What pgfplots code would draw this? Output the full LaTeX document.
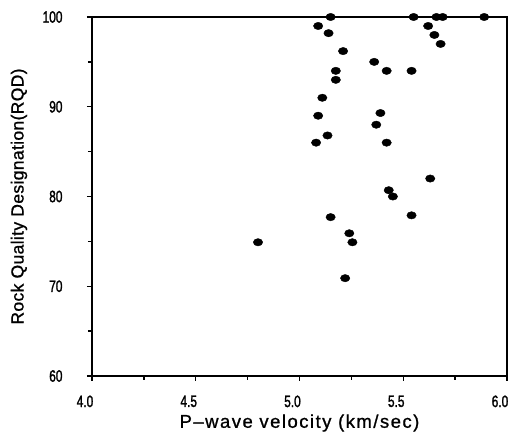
\documentclass[border=0pt]{standalone}
\usepackage{pgfplots}
\pgfplotsset{compat=1.18}
\usepackage{fontspec}
\setmainfont{Liberation Sans}
\newfontfamily\tickfont[FakeStretch=0.72,FakeBold=1.5]{Liberation Sans}
\newfontfamily\xlabfont[LetterSpace=8,FakeBold=1]{Liberation Sans}
\newfontfamily\ylabfont[LetterSpace=2,FakeBold=1]{Liberation Sans}

\begin{document}
\begin{tikzpicture}
  \path[use as bounding box] (-92pt,-65pt) rectangle (419pt,376pt);
  \begin{axis}[
    at={(0,0)}, anchor=south west,
    scale only axis,
    width=415pt, height=359pt,
    xmin=4, xmax=6, ymin=60, ymax=100,
    xtick={4,4.5,5,5.5,6},
    ytick={60,70,80,90,100},
    minor tick num=1,
    xticklabels={4.0,4.5,5.0,5.5,6.0},
    tick align=outside,
    major tick length=5pt, minor tick length=4pt,
    tick style={line width=1.3pt, black},
    xtick pos=bottom, ytick pos=left,
    axis line style={line width=1.6pt},
    ticklabel style={font=\tickfont\fontsize{16.5}{16.5}\selectfont},
    xticklabel style={yshift=-11pt, xshift=-7pt},
    yticklabel style={xshift=-21pt},
    /pgf/number format/assume math mode=true,
    xlabel={P\textendash wave velocity (km/sec)},
    ylabel={Rock Quality Designation(RQD)},
    xlabel style={font=\xlabfont\fontsize{18.5}{18.5}\selectfont, at={(axis description cs:0.5,0)}, anchor=center, yshift=-47pt},
    ylabel style={font=\ylabfont\fontsize{17.5}{17.5}\selectfont, at={(axis description cs:0,0.5)}, anchor=center, yshift=73pt},
    clip=false,
  ]
    \addplot[only marks, mark=*, mark size=4.2pt, mark options={xscale=1.12, yscale=0.88, fill=black}] coordinates {
      (5.15,100) (5.55,100) (5.66,100) (5.69,100) (5.89,100)
      (5.09,99) (5.14,98.2) (5.21,96.2)
      (5.62,99) (5.65,98) (5.68,97)
      (5.36,95) (5.42,94) (5.54,94) (5.175,94) (5.175,93)
      (5.11,91) (5.09,89) (5.39,89.3) (5.37,88)
      (5.135,86.8) (5.08,86) (5.42,86)
      (5.63,82) (5.43,80.7) (5.45,80)
      (5.15,77.7) (5.54,77.9)
      (5.24,75.9) (5.255,74.9) (4.80,74.9)
      (5.22,70.9)
    };
  \end{axis}
\end{tikzpicture}
\end{document}
